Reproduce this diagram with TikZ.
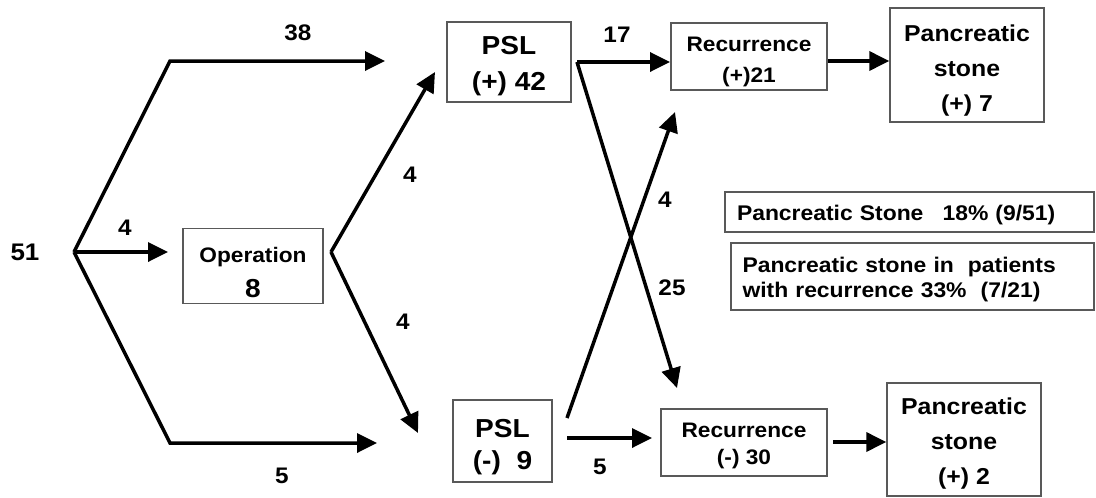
\documentclass[tikz,border=0pt]{standalone}
\usepackage{fontspec}
\setmainfont[FakeStretch=1.08]{Liberation Sans}
\usetikzlibrary{arrows.meta}
\newcommand{\fsz}[2]{\fontsize{#1}{#2}\selectfont\bfseries}
\newcommand{\tstrut}[1]{\rule{0pt}{#1pt}}
\newcommand{\bstrut}[1]{\rule[-#1pt]{0pt}{#1pt}}
\begin{document}
\begin{tikzpicture}[x=1pt,y=-1pt,
  arr/.style={line width=3.5pt,-{Triangle[length=20pt,width=19pt]}},
  box/.style={draw=black!65,line width=1.4pt,align=center,inner sep=0pt},
  lbl/.style={font=\fsz{22.5}{26},inner sep=0pt}]
\useasboundingbox (0,0) rectangle (1096,498);
% nodes
\node[font=\fsz{24}{28},inner sep=0pt] (n51) at (25,252) {51};
\node[box,minimum width=140,minimum height=74,font=\fsz{21}{35}] (op) at (253,266)
  {\tstrut{34}Operation\\{\fontsize{26}{35}\selectfont 8}\bstrut{6}};
\node[box,minimum width=124,minimum height=80,font=\fsz{26}{36}] (pslp) at (509,62)
  {\tstrut{27.6}PSL\\(+) 42\bstrut{7}};
\node[box,minimum width=99,minimum height=82,font=\fsz{26}{32}] (psln) at (502.5,441)
  {\tstrut{31.6}PSL\\(-)~ 9\bstrut{7}};
\node[box,minimum width=156,minimum height=67,font=\fsz{21}{31}] (recp) at (749,56.5)
  {\tstrut{27}Recurrence\\(+)21\bstrut{6}};
\node[box,minimum width=166,minimum height=67,font=\fsz{21}{27}] (recn) at (744,442.5)
  {\tstrut{23}Recurrence\\(-) 30\bstrut{6}};
\node[box,minimum width=154,minimum height=114,font=\fsz{23}{35}] (stp) at (967,65)
  {\tstrut{28.4}Pancreatic\\stone\\(+) 7\bstrut{6}};
\node[box,minimum width=154,minimum height=113,font=\fsz{23}{35}] (stn) at (964,439.5)
  {\tstrut{25.4}Pancreatic\\stone\\(+) 2\bstrut{6}};
\node[box,minimum width=369,minimum height=40,font=\fsz{21.2}{25},align=left,text width=345] (stat1) at (909.5,212)
  {\tstrut{22}Pancreatic Stone\hspace{0.9em}18\% (9/51)\bstrut{6}};
\node[box,minimum width=363,minimum height=67,font=\fsz{21.2}{25},align=left,text width=340] (stat2) at (912.5,276.5)
  {\tstrut{23}Pancreatic stone in~ patients\\with recurrence 33\%~ (7/21)\bstrut{6}};
% connector points
\coordinate (s) at (74,252);
\coordinate (s1) at (170,61);
\coordinate (t1) at (385,61);
\coordinate (t2) at (168,252);
\coordinate (s3) at (170,443);
\coordinate (t3) at (377,443);
\coordinate (o) at (331,252);
\coordinate (o1) at (435,72);
\coordinate (o2) at (418,433);
\coordinate (p) at (577,62);
\coordinate (p1) at (670,62);
\coordinate (p2) at (677,388);
\coordinate (q) at (567,418);
\coordinate (q1) at (675,112);
\coordinate (r) at (567,438);
\coordinate (r1) at (652,438);
\coordinate (a) at (828,61);
\coordinate (b) at (833,442);
% connectors
\draw[arr] (s) -- (s1) -- (t1);
\draw[arr] (s) -- (t2);
\draw[arr] (s) -- (s3) -- (t3);
\draw[arr] (o) -- (o1);
\draw[arr] (o) -- (o2);
\draw[arr] (p) -- (p1);
\draw[arr] (p) -- (p2);
\draw[arr] (q) -- (q1);
\draw[arr] (r) -- (r1);
\draw[arr] (a) -- (a -| stp.west);
\draw[arr] (b) -- (b -| stn.west);
% labels
\node[lbl] (l38) at (298,33) {38};
\node[lbl] (l4a) at (125,228) {4};
\node[lbl] (l5a) at (282,476) {5};
\node[lbl] (l4b) at (410,175) {4};
\node[lbl] (l4c) at (403,322) {4};
\node[lbl] (l17) at (617,35) {17};
\node[lbl] (l25) at (672,288) {25};
\node[lbl] (l4d) at (665,200) {4};
\node[lbl] (l5b) at (600,467) {5};
\end{tikzpicture}
\end{document}
